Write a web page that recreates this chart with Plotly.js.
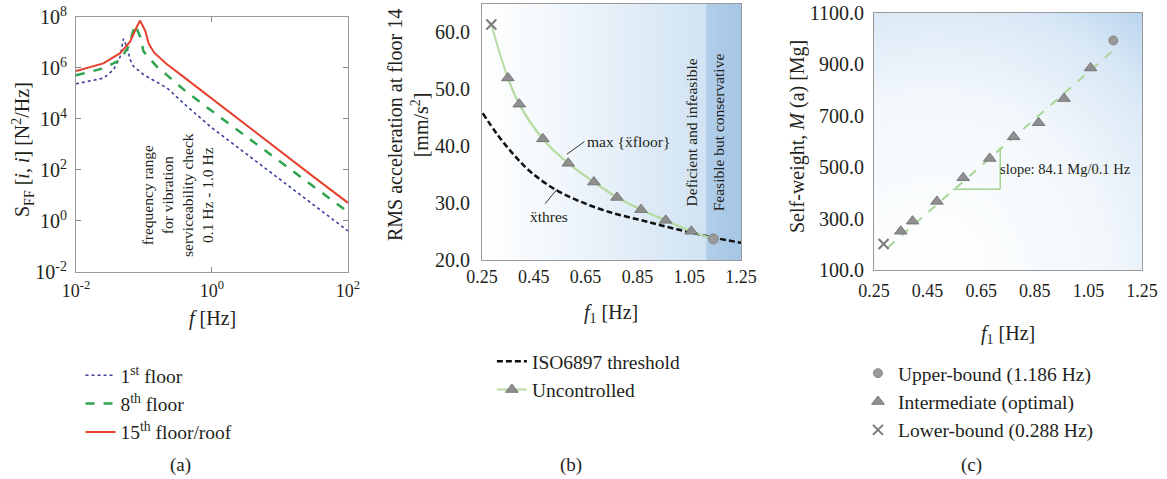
<!DOCTYPE html>
<html>
<head>
<meta charset="utf-8">
<script src="https://cdn.plot.ly/plotly-3.0.1.min.js"></script>
<style>html,body{margin:0;padding:0;background:#fff;}#chart{width:1167px;height:479px;}</style>
</head>
<body>
<div id="chart"></div>
<script>
// ---------- Panel (a): force PSD ----------
const freqFloor1 = [0.01, 0.0253, 0.0355, 0.0446, 0.0499, 0.0558, 0.0625, 0.070, 0.0984, 0.2173, 0.4276, 1, 10, 100];
const psdFloor1  = [2.40e5, 3.98e5, 8.32e5, 2.75e6, 1.41e7, 7.08e6, 2.14e6, 1.17e6, 5.50e5, 1.66e5, 3.16e4, 4.47e3, 42.7, 0.407];
const freqFloor8 = [0.01, 0.0253, 0.0446, 0.0592, 0.0741, 0.0879, 0.0984, 0.155, 0.2173, 0.4276, 1, 10, 100];
const psdFloor8  = [5.13e5, 9.77e5, 2.04e6, 6.92e6, 4.90e7, 1.70e7, 4.47e6, 1.12e6, 5.25e5, 1.12e5, 2.04e4, 214, 2.24];
const freqFloor15 = [0.01, 0.0253, 0.0446, 0.0625, 0.0785, 0.0879, 0.1047, 0.1175, 0.1413, 0.2173, 0.342, 0.4276, 1, 3.16, 10, 31.6, 100];
const psdFloor15  = [7.59e5, 1.51e6, 3.80e6, 1.07e7, 4.17e7, 7.24e7, 2.82e7, 8.91e6, 3.98e6, 1.41e6, 5.62e5, 3.55e5, 6.17e4, 5623, 562, 52.5, 5.13];
const legendA = ['1<sup>st</sup> floor', '8<sup>th</sup> floor', '15<sup>th</sup> floor/roof'];
const xTickValsA = [0.01, 1, 100];
const xTickTextA = ['10<sup>-2</sup>', '10<sup>0</sup>', '10<sup>2</sup>'];
const yTickValsA = [1e-2, 1, 1e2, 1e4, 1e6, 1e8];
const yTickTextA = ['10<sup>-2</sup>', '10<sup>0</sup>', '10<sup>2</sup>', '10<sup>4</sup>', '10<sup>6</sup>', '10<sup>8</sup>'];

// ---------- Panel (b): RMS acceleration ----------
const threshFreq = [0.253, 0.307, 0.371, 0.435, 0.525, 0.628, 0.744, 0.873, 0.975, 1.079, 1.143, 1.253];
const threshAcc  = [45.8, 42.2, 38.6, 35.6, 32.6, 30.3, 28.4, 26.9, 25.7, 24.6, 23.95, 23.0];
const designFreq = [0.286, 0.350, 0.394, 0.485, 0.583, 0.682, 0.771, 0.864, 0.959, 1.058, 1.143];
const designAcc  = [61.4, 52.0, 47.4, 41.3, 37.0, 33.7, 31.0, 28.85, 26.97, 25.05, 23.7];
const legendB = ['ISO6897 threshold', 'Uncontrolled'];
const xTickVals = [0.25, 0.45, 0.65, 0.85, 1.05, 1.25];
const xTickText = ['0.25', '0.45', '0.65', '0.85', '1.05', '1.25'];
const yTickValsB = [20, 30, 40, 50, 60];
const yTickTextB = ['20.0', '30.0', '40.0', '50.0', '60.0'];

// ---------- Panel (c): self-weight ----------
const designMass = [201, 251, 290, 367, 459, 534, 618, 673, 767, 886, 993];
const fitFreq = [0.302, 1.142];
const fitMass = [188, 954];
const legendC = ['Upper-bound (1.186 Hz)', 'Intermediate (optimal)', 'Lower-bound (0.288 Hz)'];
const yTickValsC = [100, 300, 500, 700, 900, 1100];
const yTickTextC = ['100.0', '300.0', '500.0', '700.0', '900.0', '1100.0'];

const FONT = 'Liberation Serif, Times New Roman, serif';
const TXT = '#231f20';
const n = designFreq.length;
const mid = (a) => a.slice(1, a.length - 1);

// background gradients (style only)
function gradB() {
  const c = document.createElement('canvas'); c.width = 260; c.height = 256;
  const g = c.getContext('2d');
  const lg = g.createLinearGradient(0, 0, 225, 0);
  lg.addColorStop(0, '#ffffff'); lg.addColorStop(0.35, '#f1f7fc'); lg.addColorStop(1, '#d1e3f3');
  g.fillStyle = lg; g.fillRect(0, 0, 225, 256);
  const lg2 = g.createLinearGradient(225, 0, 260, 0);
  lg2.addColorStop(0, '#b2cee9'); lg2.addColorStop(1, '#a5c6e6');
  g.fillStyle = lg2; g.fillRect(225, 0, 35, 256);
  return c.toDataURL();
}
function gradC() {
  const c = document.createElement('canvas'); c.width = 268; c.height = 257;
  const g = c.getContext('2d');
  const rg = g.createRadialGradient(60, 257, 0, 60, 257, 340);
  rg.addColorStop(0, '#ffffff'); rg.addColorStop(0.5, '#f3f8fc'); rg.addColorStop(0.8, '#d9e8f6'); rg.addColorStop(1, '#b6d2ed');
  g.fillStyle = rg; g.fillRect(0, 0, 268, 257);
  return c.toDataURL();
}

const triMarker = {symbol: 'triangle-up', size: 11, color: '#8f8f8f', line: {color: '#777777', width: 1}};
const xMarker = {symbol: 'x-thin-open', size: 10, color: '#7a7a7a', line: {color: '#7a7a7a', width: 2}};
const dotMarker = {symbol: 'circle', size: 10, color: '#999999', line: {color: '#888888', width: 1}};

const traces = [
  {x: freqFloor1, y: psdFloor1, xaxis: 'x', yaxis: 'y', mode: 'lines', name: legendA[0], legend: 'legend',
   line: {color: '#3b3f9c', width: 1.6, dash: 'dot'}},
  {x: freqFloor8, y: psdFloor8, xaxis: 'x', yaxis: 'y', mode: 'lines', name: legendA[1], legend: 'legend',
   line: {color: '#2ea44f', width: 2.5, dash: 'dash'}},
  {x: freqFloor15, y: psdFloor15, xaxis: 'x', yaxis: 'y', mode: 'lines', name: legendA[2], legend: 'legend',
   line: {color: '#e8402e', width: 2}},

  {x: threshFreq, y: threshAcc, xaxis: 'x2', yaxis: 'y2', mode: 'lines', name: legendB[0], legend: 'legend2',
   line: {color: '#111111', width: 2.5, dash: '6px,3px', shape: 'spline'}},
  {x: designFreq, y: designAcc, xaxis: 'x2', yaxis: 'y2', mode: 'lines', showlegend: false, hoverinfo: 'skip',
   line: {color: '#b6dca2', width: 2, shape: 'spline'}},
  {x: mid(designFreq), y: mid(designAcc), xaxis: 'x2', yaxis: 'y2', mode: 'lines+markers', name: legendB[1], legend: 'legend2',
   line: {color: '#b6dca2', width: 2, shape: 'spline'}, marker: triMarker},
  {x: [designFreq[0]], y: [designAcc[0]], xaxis: 'x2', yaxis: 'y2', mode: 'markers', showlegend: false, marker: xMarker},
  {x: [designFreq[n - 1]], y: [designAcc[n - 1]], xaxis: 'x2', yaxis: 'y2', mode: 'markers', showlegend: false, marker: dotMarker},

  {x: fitFreq, y: fitMass, xaxis: 'x3', yaxis: 'y3', mode: 'lines', showlegend: false, hoverinfo: 'skip',
   line: {color: '#a9d597', width: 2, dash: 'dash'}},
  {x: [designFreq[n - 1]], y: [designMass[n - 1]], xaxis: 'x3', yaxis: 'y3', mode: 'markers', name: legendC[0], legend: 'legend3',
   marker: Object.assign({}, dotMarker, {size: 9})},
  {x: mid(designFreq), y: mid(designMass), xaxis: 'x3', yaxis: 'y3', mode: 'markers', name: legendC[1], legend: 'legend3',
   marker: triMarker},
  {x: [designFreq[0]], y: [designMass[0]], xaxis: 'x3', yaxis: 'y3', mode: 'markers', name: legendC[2], legend: 'legend3',
   marker: xMarker}
];

const tickFontY = {family: FONT, size: 20, color: TXT};
const tickFontX = {family: FONT, size: 18, color: TXT};
const box = {showline: true, linecolor: '#9a9a9a', linewidth: 1, mirror: true, showgrid: false, zeroline: false};

const legendBase = {font: {family: FONT, size: 19.5, color: TXT}, bgcolor: 'rgba(0,0,0,0)', xanchor: 'left', yanchor: 'top', tracegroupgap: 0};

const ann = (text, x, y, xref, yref, extra) => Object.assign({text: text, x: x, y: y, xref: xref, yref: yref, showarrow: false,
  xanchor: 'center', yanchor: 'middle', font: {family: FONT, size: 20, color: TXT}}, extra || {});
const P = (py) => 1 - py / 479;   // pixel row -> paper fraction
const Q = (px) => px / 1167;      // pixel column -> paper fraction

const layout = {
  width: 1167, height: 479, margin: {l: 0, r: 0, t: 0, b: 0},
  paper_bgcolor: '#ffffff', plot_bgcolor: 'rgba(0,0,0,0)',
  font: {family: FONT, color: TXT},
  xaxis: Object.assign({}, box, {domain: [0.0651, 0.2982], anchor: 'y', type: 'log', range: [-2, 2], tickfont: tickFontX,
    tickvals: xTickValsA, ticktext: xTickTextA, ticks: 'inside', ticklen: 5, tickcolor: '#8a8a8a', mirror: 'ticks', ticklabelstandoff: 2}),
  yaxis: Object.assign({}, box, {domain: [0.4322, 0.9645], anchor: 'x', type: 'log', range: [-2, 8], tickfont: tickFontY,
    tickvals: yTickValsA, ticktext: yTickTextA, ticks: 'inside', ticklen: 5, tickcolor: '#8a8a8a', mirror: 'ticks', ticklabelstandoff: 4}),
  xaxis2: Object.assign({}, box, {domain: [0.4130, 0.6350], anchor: 'y2', range: [0.25, 1.25], tickfont: tickFontX,
    tickvals: xTickVals, ticktext: xTickText, ticks: '', ticklabelstandoff: 0}),
  yaxis2: Object.assign({}, box, {domain: [0.4572, 0.9916], anchor: 'x2', range: [20, 65], tickfont: tickFontY,
    tickvals: yTickValsB, ticktext: yTickTextB, ticks: '', ticklabelstandoff: 7}),
  xaxis3: Object.assign({}, box, {domain: [0.7489, 0.9786], anchor: 'y3', range: [0.25, 1.25], tickfont: tickFontX,
    tickvals: xTickVals, ticktext: xTickText, ticks: '', ticklabelstandoff: 4}),
  yaxis3: Object.assign({}, box, {domain: [0.4363, 0.9729], anchor: 'x3', range: [100, 1100], tickfont: tickFontY,
    tickvals: yTickValsC, ticktext: yTickTextC, ticks: '', ticklabelstandoff: 5}),
  legend: Object.assign({}, legendBase, {x: 0.0690, y: P(356)}),
  legend2: Object.assign({}, legendBase, {x: 0.4215, y: P(342)}),
  legend3: Object.assign({}, legendBase, {x: 0.7352, y: P(354)}),
  images: [
    {source: gradB(), xref: 'x2 domain', yref: 'y2 domain', x: 0, y: 1, sizex: 1, sizey: 1, sizing: 'stretch', layer: 'below', xanchor: 'left', yanchor: 'top'},
    {source: gradC(), xref: 'x3 domain', yref: 'y3 domain', x: 0, y: 1, sizex: 1, sizey: 1, sizing: 'stretch', layer: 'below', xanchor: 'left', yanchor: 'top'}
  ],
  shapes: [
    {type: 'rect', xref: 'x', yref: 'y domain', x0: -1, x1: 0, y0: 0, y1: 1, fillcolor: '#ededed', line: {width: 0}, layer: 'below'},
    {type: 'line', xref: 'x2', yref: 'y2', x0: 0.578, y0: 38.6, x1: 0.645, y1: 40.8, line: {color: '#333333', width: 1}},
    {type: 'line', xref: 'x2', yref: 'y2', x0: 0.494, y0: 29.9, x1: 0.539, y1: 32.4, line: {color: '#333333', width: 1}},
    {type: 'line', xref: 'x3', yref: 'y3', x0: 0.545, y0: 414, x1: 0.721, y1: 414, line: {color: '#a5d38f', width: 1.5}},
    {type: 'line', xref: 'x3', yref: 'y3', x0: 0.721, y0: 414, x1: 0.721, y1: 579, line: {color: '#a5d38f', width: 1.5}}
  ],
  annotations: [
    // axis titles
    ann('S<sub>FF</sub> [<i>i</i>, <i>i</i>] [N<sup>2</sup>/Hz]', Q(23), P(150), 'paper', 'paper', {textangle: -90}),
    ann('<i>f</i> [Hz]', Q(212), P(318), 'paper', 'paper'),
    ann('RMS acceleration at floor 14<br>[mm/s<sup>2</sup>]', Q(408), P(125), 'paper', 'paper', {textangle: -90}),
    ann('<i>f</i><sub>1</sub> [Hz]', Q(611), P(313), 'paper', 'paper'),
    ann('Self-weight, <i>M</i> (a) [Mg]', Q(798), P(137), 'paper', 'paper', {textangle: -90}),
    ann('<i>f</i><sub>1</sub> [Hz]', Q(1008), P(334), 'paper', 'paper'),
    // panel captions
    ann('(a)', Q(180), P(465), 'paper', 'paper', {font: {family: FONT, size: 19, color: TXT}}),
    ann('(b)', Q(571), P(465), 'paper', 'paper', {font: {family: FONT, size: 19, color: TXT}}),
    ann('(c)', Q(971), P(465), 'paper', 'paper', {font: {family: FONT, size: 19, color: TXT}}),
    // panel (a) band text (log-axis coordinates)
    ann('frequency range<br>for vibration<br>serviceability check<br>0.1 Hz - 1.0 Hz', -0.50, 1.02, 'x', 'y',
      {textangle: -90, font: {family: FONT, size: 15.5, color: TXT}}),
    // panel (b) texts
    ann('max {ẍfloor}', 0.646, 40.9, 'x2', 'y2', {xanchor: 'left', font: {family: FONT, size: 15.5, color: TXT}}),
    ann('ẍthres', 0.507, 27.7, 'x2', 'y2', {font: {family: FONT, size: 15.5, color: TXT}}),
    ann('Deficient and infeasible', 1.060, 42.4, 'x2', 'y2', {textangle: -90, font: {family: FONT, size: 15.5, color: TXT}}),
    ann('Feasible but conservative', 1.162, 42.5, 'x2', 'y2', {textangle: -90, font: {family: FONT, size: 15.5, color: TXT}}),
    // panel (c) text
    ann('slope: 84.1 Mg/0.1 Hz', 0.712, 492, 'x3', 'y3', {xanchor: 'left', font: {family: FONT, size: 14.5, color: TXT}})
  ]
};

Plotly.newPlot('chart', traces, layout, {displayModeBar: false, staticPlot: true});
</script>
</body>
</html>
